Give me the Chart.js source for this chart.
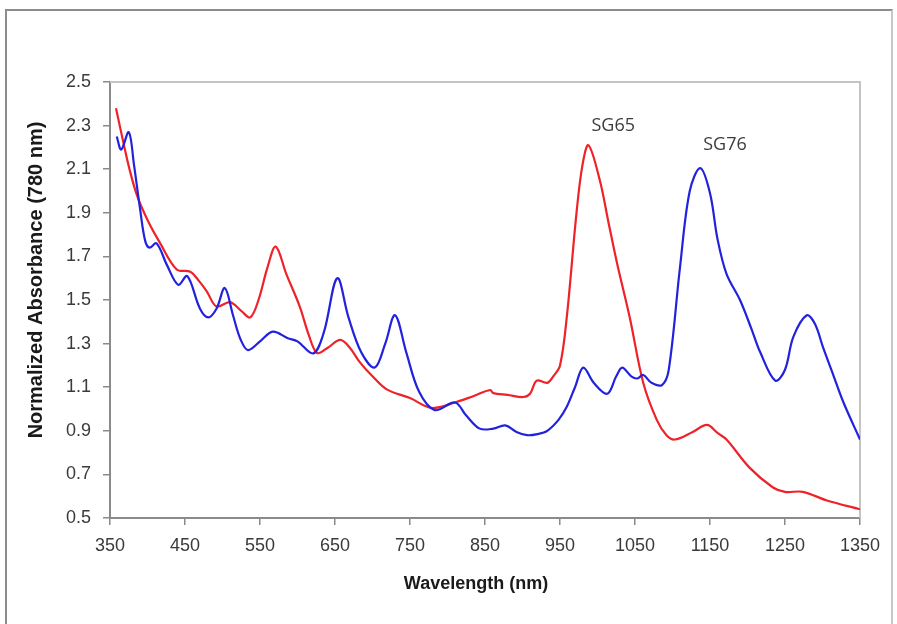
<!DOCTYPE html>
<html>
<head>
<meta charset="utf-8">
<script src="https://cdn.jsdelivr.net/npm/chart.js@4.4.1/dist/chart.umd.min.js"></script>
<style>
  body { margin: 0; background: #fff; }
  #wrap { position: relative; width: 897px; height: 624px; }
  #frame { position: absolute; left: 5px; top: 9px; width: 888px; height: 620px; border: 2px solid #8c8c8c; border-right-color: #c8c8c8; box-sizing: border-box; }
  canvas { position: absolute; left: 0; top: 0; }
</style>
</head>
<body>
<div id="wrap">
  <div id="frame"></div>
  <canvas id="spectra" width="897" height="624"></canvas>
</div>
<script>
// wavelength (nm) / normalized absorbance
const sg76Wave = [359, 365, 375, 382, 390, 397, 403, 412, 426, 441, 453, 470, 481, 492, 503, 514, 524, 534, 550, 567, 587, 600, 621, 635, 653, 668, 685, 703, 717, 730, 745, 762, 783, 810, 825, 843, 861, 877, 892, 906, 920, 933, 948, 959, 970, 981, 995, 1013, 1025, 1033, 1045, 1053, 1061, 1072, 1086, 1095, 1110, 1123, 1137, 1150, 1160, 1172, 1190, 1205, 1217, 1237, 1250, 1261, 1279, 1290, 1301, 1315, 1328, 1350];
const sg76Abs = [2.25, 2.19, 2.27, 2.12, 1.92, 1.77, 1.74, 1.76, 1.66, 1.57, 1.61, 1.46, 1.42, 1.46, 1.555, 1.43, 1.32, 1.27, 1.31, 1.355, 1.325, 1.31, 1.255, 1.35, 1.60, 1.42, 1.26, 1.19, 1.30, 1.43, 1.26, 1.08, 0.995, 1.03, 0.97, 0.91, 0.91, 0.925, 0.895, 0.88, 0.885, 0.90, 0.95, 1.01, 1.10, 1.19, 1.12, 1.07, 1.15, 1.19, 1.15, 1.14, 1.156, 1.12, 1.11, 1.18, 1.65, 2.0, 2.105, 1.99, 1.78, 1.62, 1.5, 1.37, 1.26, 1.13, 1.18, 1.33, 1.43, 1.39, 1.28, 1.15, 1.03, 0.86];

const sg65Wave = [358, 368, 376, 386, 401, 417, 439, 457, 468, 479, 492, 510, 525, 537, 548, 560, 571, 585, 603, 615, 626, 640, 657, 670, 683, 700, 719, 750, 779, 810, 835, 857, 861, 880, 901, 910, 919, 933, 941, 950, 959, 972, 980, 988, 1003, 1015, 1026, 1043, 1061, 1079, 1092, 1103, 1127, 1146, 1160, 1172, 1203, 1234, 1250, 1274, 1306, 1350];
const sg65Abs = [2.38, 2.22, 2.1, 1.98, 1.86, 1.76, 1.64, 1.63, 1.59, 1.54, 1.47, 1.49, 1.45, 1.42, 1.5, 1.65, 1.745, 1.62, 1.47, 1.34, 1.257, 1.28, 1.317, 1.28, 1.215, 1.15, 1.09, 1.05, 1.005, 1.03, 1.06, 1.087, 1.073, 1.065, 1.055, 1.07, 1.13, 1.12, 1.15, 1.2, 1.42, 1.9, 2.12, 2.21, 2.05, 1.85, 1.67, 1.42, 1.12, 0.95, 0.88, 0.86, 0.895, 0.927, 0.89, 0.86, 0.73, 0.64, 0.62, 0.62, 0.58, 0.54];

const xTicks = [350, 450, 550, 650, 750, 850, 950, 1050, 1150, 1250, 1350];
const yTicks = [0.5, 0.7, 0.9, 1.1, 1.3, 1.5, 1.7, 1.9, 2.1, 2.3, 2.5];

const peakNames = ['SG65', 'SG76'];
const peakWave = [1021, 1170];
const peakAbs = [2.30, 2.21];

function toPoints(xs, ys) {
  return xs.map(function (x, i) { return { x: x, y: ys[i] }; });
}

// plot frame, axis titles and the two peak names
const extras = {
  id: 'extras',
  beforeDatasetsDraw(chart) {
    const a = chart.chartArea;
    const ctx = chart.ctx;
    ctx.save();
    ctx.strokeStyle = '#c4c4c4';
    ctx.lineWidth = 2;
    ctx.beginPath();
    ctx.moveTo(a.left, a.top);
    ctx.lineTo(a.right, a.top);
    ctx.lineTo(a.right, a.bottom);
    ctx.stroke();
    ctx.restore();
  },
  afterDraw(chart) {
    const ctx = chart.ctx;
    const xs = chart.scales.x, ys = chart.scales.y;
    ctx.save();
    ctx.fillStyle = '#1a1a1a';
    ctx.textAlign = 'center';
    ctx.textBaseline = 'middle';
    ctx.font = 'bold 18px "Liberation Sans", Arial, sans-serif';
    ctx.fillText('Wavelength (nm)', 476, 584);
    ctx.translate(36, 280);
    ctx.rotate(-Math.PI / 2);
    ctx.font = 'bold 20px "Liberation Sans", Arial, sans-serif';
    ctx.fillText('Normalized Absorbance (780 nm)', 0, 0);
    ctx.restore();

    ctx.save();
    ctx.fillStyle = '#3c3c3c';
    ctx.textAlign = 'center';
    ctx.textBaseline = 'middle';
    ctx.font = '18px "Open Sans", sans-serif';
    for (let i = 0; i < peakNames.length; i++) {
      ctx.fillText(peakNames[i], xs.getPixelForValue(peakWave[i]), ys.getPixelForValue(peakAbs[i]));
    }
    ctx.restore();
  }
};

new Chart("spectra", {
  type: "line",
  data: {
    datasets: [
      {
        label: 'SG76',
        data: toPoints(sg76Wave, sg76Abs),
        borderColor: 'rgb(34, 34, 222)',
        borderWidth: 2.2,
        pointRadius: 0,
        tension: 0.35,
        fill: false
      },
      {
        label: 'SG65',
        data: toPoints(sg65Wave, sg65Abs),
        borderColor: 'rgb(238, 34, 40)',
        borderWidth: 2.2,
        pointRadius: 0,
        tension: 0.35,
        fill: false
      }
    ]
  },
  options: {
    responsive: false,
    animation: false,
    layout: { padding: { left: 0, top: 82, right: 37, bottom: 0 } },
    plugins: {
      legend: { display: false },
      tooltip: { enabled: false }
    },
    scales: {
      x: {
        type: 'linear',
        min: 350,
        max: 1350,
        afterFit(scale) { scale.height = 106; },
        afterBuildTicks(scale) {
          scale.ticks = xTicks.map(function (v) { return { value: v }; });
        },
        grid: { drawOnChartArea: false, drawTicks: true, tickLength: 7, color: '#8a8a8a', lineWidth: 1.5 },
        border: { display: true, color: '#8a8a8a', width: 2 },
        ticks: {
          color: '#3a3a3a',
          padding: 10,
          maxRotation: 0,
          autoSkip: false,
          font: { size: 18, family: '"Liberation Sans", Arial, sans-serif' },
          callback: function (v) { return String(v); }
        }
      },
      y: {
        min: 0.5,
        max: 2.5,
        afterFit(scale) { scale.width = 110; },
        afterBuildTicks(scale) {
          scale.ticks = yTicks.map(function (v) { return { value: v }; });
        },
        grid: { drawOnChartArea: false, drawTicks: true, tickLength: 7, color: '#8a8a8a', lineWidth: 1.5 },
        border: { display: true, color: '#8a8a8a', width: 2 },
        ticks: {
          color: '#3a3a3a',
          padding: 12,
          font: { size: 18, family: '"Liberation Sans", Arial, sans-serif' },
          callback: function (v) { return v.toFixed(1); }
        }
      }
    }
  },
  plugins: [extras]
});
</script>
</body>
</html>
